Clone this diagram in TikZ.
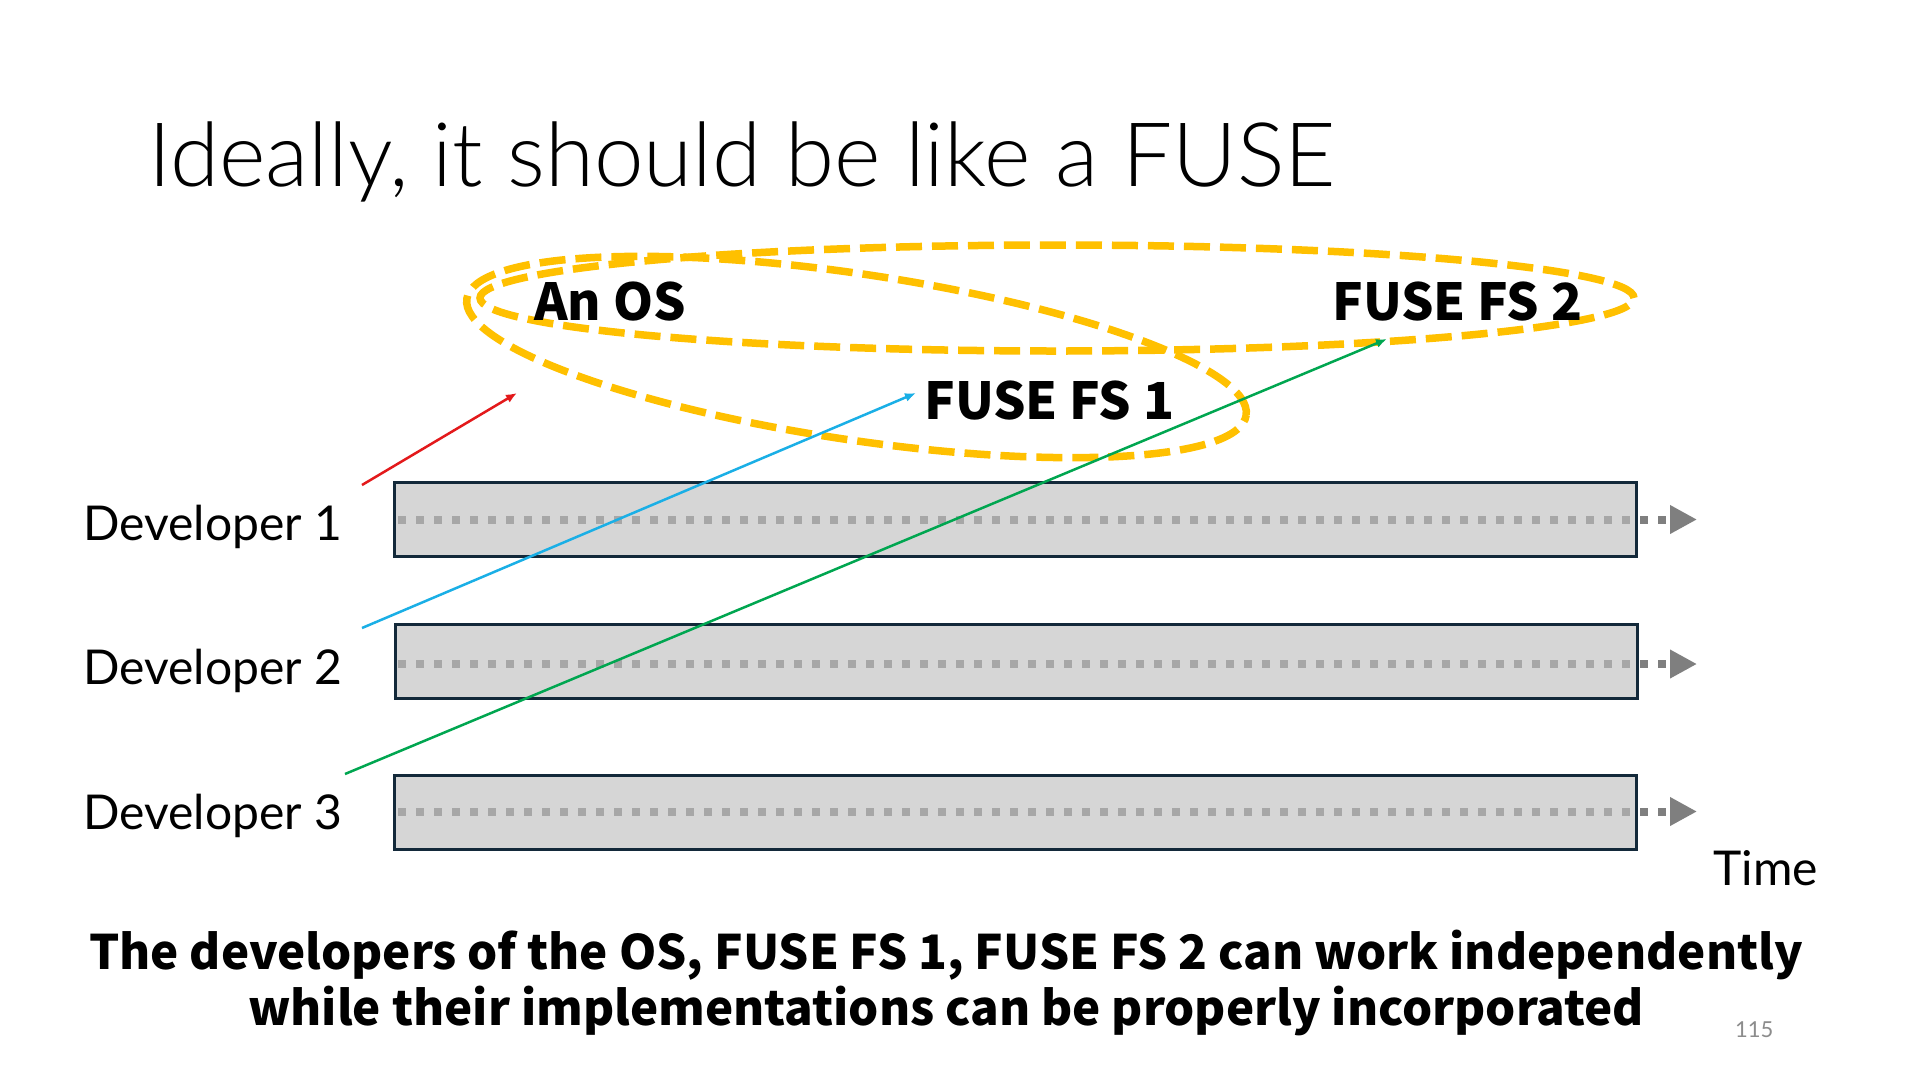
\documentclass[tikz,border=0pt]{standalone}
\usepackage{fontspec}
\setmainfont{Lato}
\newfontfamily\titlefont{Lato Light}
\newfontfamily\boldfont{Noto Sans CJK JP}
\usetikzlibrary{shapes.geometric,arrows.meta}
\definecolor{gold}{HTML}{FFC000}
\definecolor{barline}{HTML}{13293A}
\definecolor{barfill}{HTML}{BFBFBF}
\definecolor{tline}{HTML}{7F7F7F}
\definecolor{myred}{HTML}{E3191B}
\definecolor{myblue}{HTML}{1AAFE6}
\definecolor{mygreen}{HTML}{00A650}
\definecolor{pagegray}{HTML}{8C8C8C}
\begin{document}
\begin{tikzpicture}[x=1pt,y=-1pt,
  bar/.style={draw=barline, line width=3pt, fill=barfill, fill opacity=0.64, draw opacity=1,
    minimum width=1242pt, minimum height=74pt, inner sep=0pt},
  timeline/.style={draw=tline, line width=8pt, dash pattern=on 8pt off 10pt,
    -{Triangle[length=27pt,width=27pt]}},
  ring/.style={draw=gold, line width=7.5pt, dash pattern=on 26pt off 10pt, ellipse, inner sep=0pt},
  dev/.style={anchor=base west, inner sep=0pt, font=\fontsize{48}{56}\selectfont},
  lbl/.style={anchor=base west, inner sep=0pt, font=\boldfont\bfseries\fontsize{51}{60}\selectfont},
  link/.style={line width=2.5pt, -{Latex[length=11pt,width=9pt]}},
  bottom/.style={anchor=base, inner sep=0pt, font=\boldfont\bfseries\fontsize{47.5}{56}\selectfont}
]
\useasboundingbox[fill=white] (0,0) rectangle (1920,1080);

% title
\node[anchor=base west, inner sep=0pt, font=\titlefont\fontsize{89}{100}\selectfont] (title) at (148,186) {Ideally, it should be like a FUSE};

% bars with time lines
\coordinate (s1) at (398,519.5);
\coordinate (t1) at (1697,519.5);
\coordinate (s2) at (398,664);
\coordinate (t2) at (1697,664);
\coordinate (s3) at (398,811.5);
\coordinate (t3) at (1697,811.5);
\draw[timeline] (s1) -- (t1);
\draw[timeline] (s2) -- (t2);
\draw[timeline] (s3) -- (t3);
\node[bar] (b1) at (1015.5,519.5) {};
\node[bar] (b2) at (1016,661.5) {};
\node[bar] (b3) at (1015.5,812.5) {};

% developer labels
\node[dev] (d1) at (83,540) {Developer 1};
\node[dev] (d2) at (83,684) {Developer 2};
\node[dev] (d3) at (83,829) {Developer 3};
\node[dev] (time) at (1713,885) {Time};

% ellipses
\node[ring, minimum width=1154pt, minimum height=106pt] (big) at (1057,298) {};
\node[ring, minimum width=788pt, minimum height=166pt, rotate=-8.5] (tilt) at (856.5,357) {};

% component labels
\node[lbl] (os) at (534,320) {An OS};
\node[lbl] (fs2) at (1332,320) {FUSE FS 2};
\node[lbl] (fs1) at (924,419) {FUSE FS 1};

% links
\coordinate (r0) at (362,485);
\coordinate (r1) at (517,393);
\coordinate (u0) at (362,628);
\coordinate (u1) at (916,393);
\coordinate (g0) at (345,774);
\coordinate (g1) at (1387,339);
\draw[link, draw=myred, fill=myred] (r0) -- (r1);
\draw[link, draw=myblue, fill=myblue] (u0) -- (u1);
\draw[link, draw=mygreen, fill=mygreen] (g0) -- (g1);

% bottom text
\node[bottom] (l1) at (946,969) {The developers of the OS, FUSE FS 1, FUSE FS 2 can work independently};
\node[bottom] (l2) at (946,1025) {while their implementations can be properly incorporated};

% page number
\node[anchor=base west, inner sep=0pt, text=pagegray, font=\fontsize{22}{26}\selectfont] (pg) at (1735,1037) {115};
\end{tikzpicture}
\end{document}
